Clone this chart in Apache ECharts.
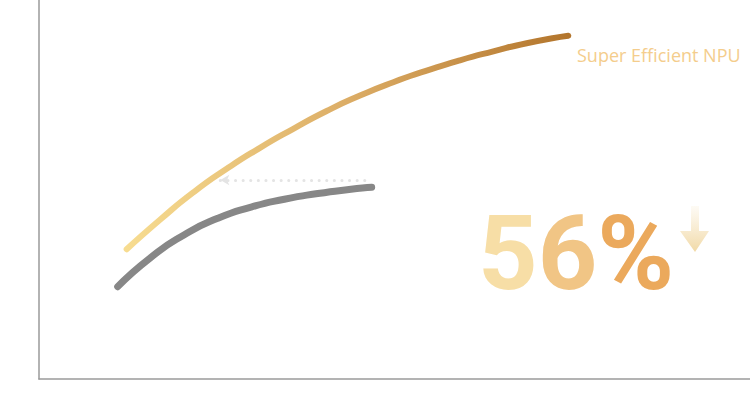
<!DOCTYPE html>
<html><head><meta charset="utf-8">
<script src="https://cdn.jsdelivr.net/npm/echarts@6/dist/echarts.min.js"></script>
<style>html,body{margin:0;padding:0;background:#fff}#c{width:750px;height:416px}</style>
</head><body><div id="c"></div>
<script>
var goldX = [12.33, 17.02, 21.70, 26.40, 31.08, 35.77, 40.46, 45.15, 49.83, 54.53, 59.21, 63.90, 68.59, 74.44];
var goldY = [34.22, 42.01, 49.23, 55.46, 61.00, 66.02, 70.71, 74.78, 78.31, 81.35, 84.09, 86.46, 88.60, 90.58];
var grayX = [11.07, 15.77, 20.45, 25.14, 29.82, 34.51, 39.21, 43.88, 46.79];
var grayY = [24.35, 32.14, 38.07, 42.40, 45.36, 47.44, 48.94, 50.05, 50.58];
var refX = [25.5, 46.8];
var refY = [52.5, 52.5];
var seriesName = 'Super Efficient NPU';
var bigChars = ['5', '6', '%'];

function pairs(xs, ys){ return xs.map(function(x,i){return [x, ys[i]];}); }

var chart = echarts.init(document.getElementById('c'), null, {renderer: 'svg'});
chart.setOption({
  animation: false,
  grid: {left: 39, right: 0, top: 0, bottom: 37},
  xAxis: {type: 'value', min: 0, max: 100, axisLine: {show: true, lineStyle: {color: '#9a9a9a', width: 1.5}},
          axisTick: {show: false}, axisLabel: {show: false}, splitLine: {show: false}},
  yAxis: {type: 'value', min: 0, max: 100, axisLine: {show: true, lineStyle: {color: '#9a9a9a', width: 1.5}},
          axisTick: {show: false}, axisLabel: {show: false}, splitLine: {show: false}},
  series: [
    {type: 'line', name: 'base', data: pairs(grayX, grayY), smooth: 0.6, showSymbol: false,
     lineStyle: {color: '#878787', width: 7, cap: 'round'}, z: 2,
     markLine: {silent: true, symbol: ['arrow', 'none'], symbolSize: [8, 9], label: {show: false},
       lineStyle: {color: '#e4e4e4', width: 3, type: [0.1, 7.5], cap: 'round'},
       itemStyle: {color: '#e8e8e8'},
       data: [[{coord: [refX[0], refY[0]]}, {coord: [refX[1], refY[1]]}]]}},
    {type: 'line', name: seriesName, data: pairs(goldX, goldY), smooth: 0.6, showSymbol: false,
     lineStyle: {width: 6, cap: 'round',
       color: new echarts.graphic.LinearGradient(0, 0, 1, 0, [
         {offset: 0, color: '#f7dc90'}, {offset: 0.5, color: '#dcad66'}, {offset: 1, color: '#b3752c'}])}, z: 3}
  ],
  graphic: [
    {type: 'text', left: 577, top: 46, style: {text: seriesName, fill: '#f4cd8c', fontSize: 18, fontFamily: 'Open Sans'}},
    {type: 'text', left: 478, top: 201, style: {
      text: '{a|' + bigChars[0] + '}{b|' + bigChars[1] + '}{c|' + bigChars[2] + '}',
      fontSize: 104, fontWeight: 'bold', fontFamily: 'Roboto',
      rich: {
        a: {fill: '#f7dea6', fontSize: 104, fontWeight: 'bold', fontFamily: 'Roboto'},
        b: {fill: '#f1c585', fontSize: 104, fontWeight: 'bold', fontFamily: 'Roboto'},
        c: {fill: '#eba95c', fontSize: 104, fontWeight: 'bold', fontFamily: 'Roboto'}
      }}},
    {type: 'polygon', shape: {points: [[691, 206], [699, 206], [699, 231], [709, 231], [695, 252], [680, 231], [691, 231]]},
     style: {fill: new echarts.graphic.LinearGradient(0, 0, 0, 1, [
        {offset: 0, color: 'rgba(245,225,185,0.15)'}, {offset: 1, color: '#f1d9a6'}])}}
  ]
});
</script></body></html>
